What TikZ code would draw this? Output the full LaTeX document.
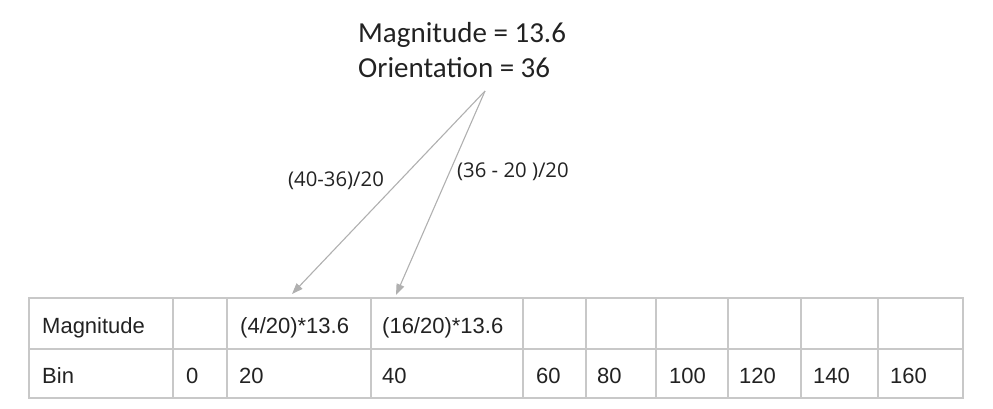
\documentclass[tikz,border=0pt]{standalone}
\usepackage{fontspec}
\setmainfont{Liberation Sans}
\newfontfamily\headfont{Carlito}
\newfontfamily\lblfont{Open Sans}
\usetikzlibrary{arrows.meta}
\definecolor{gridgray}{HTML}{C8C8C8}
\definecolor{arrgray}{HTML}{B0B0B0}
\definecolor{txt}{HTML}{222222}
\tikzset{
  cell/.style={anchor=base west, inner sep=0pt, font=\fontsize{22}{26}\selectfont, text=txt},
  head/.style={anchor=base west, inner sep=0pt, font=\headfont\fontsize{29}{35}\selectfont, text=txt},
  lbl/.style={anchor=base west, inner sep=0pt, font=\lblfont\fontsize{20.3}{24}\selectfont, text=txt},
  grid/.style={draw=gridgray, line width=1.3pt},
  conn/.style={draw=arrgray, line width=1.1pt, -{Triangle[length=11pt,width=8pt]}}
}
\begin{document}
\begin{tikzpicture}[x=1pt,y=-1pt]
\useasboundingbox (0,0) rectangle (993,408);
% heading
\node[head] (mag) at (358,42) {Magnitude = 13.6};
\node[head] (ori) at (358,77) {Orientation = 36};
\coordinate (src) at (485,91);
% table grid
\draw[grid] (29,298) rectangle (963,398);
\draw[grid] (29,349) -- (963,349);
\foreach \x in {173,227,371,523,586,656,728,801,878}
  \draw[grid] (\x,298) -- (\x,398);
% row 1
\node[cell] (m0) at (42,333) {Magnitude};
\node[cell] (m2) at (240,333) {(4/20)*13.6};
\node[cell] (m3) at (382,333) {(16/20)*13.6};
% row 2
\node[cell] (b0) at (42,383) {Bin};
\node[cell] (b1) at (186,383) {0};
\node[cell] (b2) at (239,383) {20};
\node[cell] (b3) at (382,383) {40};
\node[cell] (b4) at (536,383) {60};
\node[cell] (b5) at (597,383) {80};
\node[cell] (b6) at (669,383) {100};
\node[cell] (b7) at (739,383) {120};
\node[cell] (b8) at (813,383) {140};
\node[cell] (b9) at (890,383) {160};
% arrow targets
\coordinate (t1) at (292,294);
\coordinate (t2) at (396,295);
\draw[conn] (src) -- (t1);
\draw[conn] (src) -- (t2);
% labels
\node[lbl] (l1) at (288,186) {(40-36)/20};
\node[lbl] (l2) at (457,177) {(36 - 20 )/20};
\end{tikzpicture}
\end{document}
